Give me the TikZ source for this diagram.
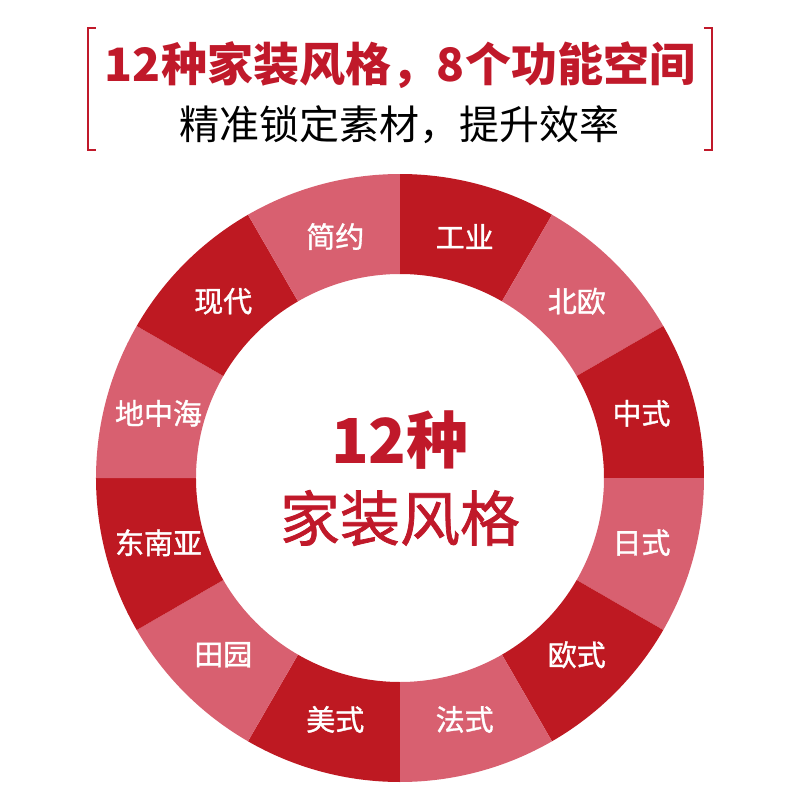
\documentclass[tikz,border=0pt]{standalone}
\usepackage{fontspec}
\newfontfamily\cjk{Noto Sans CJK SC}
\newfontfamily\cjkmed[FakeBold=1.2]{Noto Sans CJK SC}
\usepackage{tikz}

\definecolor{segdark}{HTML}{BE1922}
\definecolor{seglight}{HTML}{D86070}
\definecolor{titlered}{HTML}{C0192A}

\begin{document}
\begin{tikzpicture}[x=0.5pt, y=0.5pt,
    dark/.style={fill=segdark},
    light/.style={fill=seglight},
    seglabel/.style={text=white, font=\cjkmed\fontsize{14.5}{16}\selectfont},
    bracket/.style={draw=titlered, line width=1.3pt}]
    \useasboundingbox (-400,-322) rectangle (400,478);

    % title and its brackets
    \draw[bracket] (-304,450) -- (-312,450) -- (-312,328) -- (-304,328);
    \draw[bracket] (304,450) -- (312,450) -- (312,328) -- (304,328);
    \node[text=titlered, font=\cjk\bfseries\fontsize{23}{26}\selectfont] (title) at (0,413) {12种家装风格，8个功能空间};
    \node[text=black, font=\cjk\fontsize{20}{24}\selectfont] (subtitle) at (0,353) {精准锁定素材，提升效率};

    % ring segments, from the top going clockwise
    \fill[dark]  (90:304) arc (90:60:304) -- (60:204) arc (60:90:204) -- cycle;
    \fill[light] (60:304) arc (60:30:304) -- (30:204) arc (30:60:204) -- cycle;
    \fill[dark]  (30:304) arc (30:0:304) -- (0:204) arc (0:30:204) -- cycle;
    \fill[light] (0:304) arc (0:-30:304) -- (-30:204) arc (-30:0:204) -- cycle;
    \fill[dark]  (-30:304) arc (-30:-60:304) -- (-60:204) arc (-60:-30:204) -- cycle;
    \fill[light] (-60:304) arc (-60:-90:304) -- (-90:204) arc (-90:-60:204) -- cycle;
    \fill[dark]  (-90:304) arc (-90:-120:304) -- (-120:204) arc (-120:-90:204) -- cycle;
    \fill[light] (-120:304) arc (-120:-150:304) -- (-150:204) arc (-150:-120:204) -- cycle;
    \fill[dark]  (-150:304) arc (-150:-180:304) -- (-180:204) arc (-180:-150:204) -- cycle;
    \fill[light] (180:304) arc (180:150:304) -- (150:204) arc (150:180:204) -- cycle;
    \fill[dark]  (150:304) arc (150:120:304) -- (120:204) arc (120:150:204) -- cycle;
    \fill[light] (120:304) arc (120:90:304) -- (90:204) arc (90:120:204) -- cycle;

    % segment labels
    \node[seglabel] (gongye)  at (75:250)   {工业};
    \node[seglabel] (beiou)   at (45:250)   {北欧};
    \node[seglabel] (zhongshi) at (15:250)  {中式};
    \node[seglabel] (rishi)   at (-15:250)  {日式};
    \node[seglabel] (oushi)   at (-45:250)  {欧式};
    \node[seglabel] (fashi)   at (-75:250)  {法式};
    \node[seglabel] (meishi)  at (-105:250) {美式};
    \node[seglabel] (tianyuan) at (-135:250) {田园};
    \node[seglabel] (dongnanya) at (-165:250) {东南亚};
    \node[seglabel] (dizhonghai) at (165:250) {地中海};
    \node[seglabel] (xiandai) at (135:250)  {现代};
    \node[seglabel] (jianyue) at (105:250)  {简约};

    % centre text
    \node[text=titlered, font=\cjk\bfseries\fontsize{31}{34}\selectfont] (count) at (0,38) {12种};
    \node[text=titlered, font=\cjkmed\fontsize{30}{34}\selectfont] (styles) at (0,-40) {家装风格};
\end{tikzpicture}
\end{document}
